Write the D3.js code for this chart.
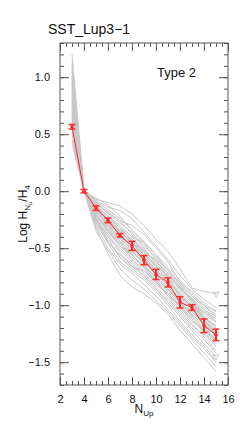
<!DOCTYPE html>
<html lang="en">
<head>
<meta charset="UTF-8">
<title>SST_Lup3-1 Type 2</title>
<script src="https://d3js.org/d3.v7.min.js"></script>
<style>
  body { margin: 0; background: #fff; }
  text { font-family: "Liberation Sans", Arial, sans-serif; fill: #111; }
</style>
</head>
<body>
<div id="chart"></div>
<script>
// Upper level number N_up for every point
const nUp = [3, 4, 5, 6, 7, 8, 9, 10, 11, 12, 13, 14, 15];

// Mean ratio (red) and its error
const meanLog = [0.565, 0.0, -0.148, -0.256, -0.387, -0.48, -0.605, -0.73, -0.80, -0.975, -1.02, -1.18, -1.26];
const meanErr = [0.02, 0.015, 0.02, 0.02, 0.015, 0.04, 0.04, 0.045, 0.04, 0.05, 0.025, 0.06, 0.05];

// Individual models (gray)
const models = [
  [0.95, 0, -0.07, -0.10, -0.13, -0.20, -0.30, -0.42, -0.53, -0.68, -0.85, -0.88, -0.90],
  [0.85, 0, -0.08, -0.14, -0.17, -0.24, -0.36, -0.48, -0.60, -0.74, -0.86, -0.95, -1.02],
  [1.15, 0, -0.10, -0.18, -0.26, -0.30, -0.38, -0.50, -0.62, -0.80, -0.88, -0.98, -1.05],
  [0.70, 0, -0.12, -0.22, -0.30, -0.40, -0.45, -0.56, -0.70, -0.80, -0.92, -1.00, -1.10],
  [1.05, 0, -0.13, -0.25, -0.34, -0.42, -0.52, -0.62, -0.72, -0.85, -0.95, -1.08, -1.15],
  [0.60, 0, -0.15, -0.26, -0.35, -0.46, -0.56, -0.66, -0.78, -0.88, -0.98, -1.10, -1.20],
  [0.90, 0, -0.16, -0.30, -0.40, -0.48, -0.58, -0.70, -0.76, -0.92, -1.02, -1.12, -1.22],
  [0.75, 0, -0.18, -0.28, -0.38, -0.50, -0.62, -0.72, -0.84, -0.96, -1.06, -1.16, -1.28],
  [1.00, 0, -0.20, -0.33, -0.44, -0.52, -0.64, -0.76, -0.86, -0.96, -1.10, -1.20, -1.30],
  [0.55, 0, -0.14, -0.24, -0.36, -0.45, -0.58, -0.68, -0.80, -0.92, -1.04, -1.14, -1.25],
  [0.80, 0, -0.22, -0.36, -0.48, -0.58, -0.66, -0.80, -0.90, -1.02, -1.12, -1.24, -1.34],
  [0.65, 0, -0.10, -0.20, -0.28, -0.36, -0.50, -0.64, -0.76, -0.86, -0.96, -1.06, -1.14],
  [1.10, 0, -0.25, -0.40, -0.50, -0.60, -0.70, -0.80, -0.92, -1.04, -1.16, -1.28, -1.40],
  [0.45, 0, -0.12, -0.26, -0.40, -0.52, -0.60, -0.72, -0.82, -0.94, -1.00, -1.12, -1.18],
  [0.88, 0, -0.28, -0.45, -0.56, -0.64, -0.74, -0.86, -0.98, -1.10, -1.22, -1.34, -1.45],
  [0.72, 0, -0.17, -0.32, -0.42, -0.55, -0.68, -0.78, -0.88, -1.00, -1.08, -1.18, -1.26],
  [0.98, 0, -0.30, -0.50, -0.64, -0.72, -0.82, -0.92, -1.04, -1.16, -1.28, -1.38, -1.50],
  [0.50, 0, -0.20, -0.36, -0.46, -0.56, -0.66, -0.76, -0.86, -0.98, -1.08, -1.18, -1.32],
  [0.82, 0, -0.32, -0.55, -0.74, -0.84, -0.90, -0.98, -1.08, -1.22, -1.34, -1.46, -1.58],
  [0.68, 0, -0.24, -0.38, -0.52, -0.62, -0.72, -0.84, -0.94, -1.06, -1.18, -1.26, -1.36],
  [1.20, 0, -0.18, -0.30, -0.36, -0.44, -0.54, -0.66, -0.74, -0.84, -0.94, -1.04, -1.10],
  [0.58, 0, -0.26, -0.46, -0.62, -0.70, -0.78, -0.88, -1.00, -1.14, -1.26, -1.36, -1.48],
  [0.92, 0, -0.14, -0.24, -0.32, -0.44, -0.56, -0.64, -0.74, -0.86, -0.94, -1.04, -1.12],
  [0.78, 0, -0.21, -0.34, -0.46, -0.54, -0.62, -0.74, -0.84, -0.94, -1.06, -1.16, -1.24],
  [0.62, 0, -0.09, -0.16, -0.24, -0.34, -0.44, -0.56, -0.66, -0.78, -0.90, -1.00, -1.06],
  [1.02, 0, -0.27, -0.42, -0.58, -0.68, -0.76, -0.86, -0.96, -1.08, -1.20, -1.30, -1.42],
  [0.84, 0, -0.19, -0.28, -0.34, -0.42, -0.54, -0.66, -0.78, -0.90, -1.00, -1.10, -1.18],
  [0.42, 0, -0.15, -0.30, -0.44, -0.60, -0.70, -0.80, -0.90, -1.02, -1.14, -1.22, -1.30],
  [0.95, 0, -0.23, -0.40, -0.54, -0.66, -0.74, -0.82, -0.90, -1.00, -1.12, -1.24, -1.36],
  [0.74, 0, -0.11, -0.19, -0.26, -0.38, -0.48, -0.58, -0.70, -0.82, -0.92, -1.02, -1.08],
  [0.86, 0, -0.16, -0.26, -0.38, -0.48, -0.60, -0.70, -0.80, -0.90, -1.02, -1.14, -1.22],
  [1.08, 0, -0.20, -0.34, -0.48, -0.56, -0.66, -0.76, -0.86, -0.98, -1.10, -1.22, -1.32],
  [0.66, 0, -0.13, -0.22, -0.32, -0.40, -0.52, -0.62, -0.72, -0.84, -0.96, -1.10, -1.20],
  [0.96, 0, -0.35, -0.52, -0.68, -0.78, -0.86, -0.96, -1.06, -1.18, -1.30, -1.42, -1.54],
  [0.76, 0, -0.06, -0.12, -0.22, -0.34, -0.46, -0.60, -0.76, -0.92, -1.00, -1.06, -1.12],
  [0.52, 0, -0.24, -0.44, -0.58, -0.66, -0.70, -0.78, -0.92, -1.00, -1.06, -1.14, -1.24],
  [1.12, 0, -0.11, -0.28, -0.42, -0.50, -0.54, -0.60, -0.68, -0.82, -0.98, -1.12, -1.28]
];
// models that end with a small triangle
const markedModels = [0, 9, 14];

const xTicks = [2, 4, 6, 8, 10, 12, 14, 16];
const yTicks = [-1.5, -1.0, -0.5, 0.0, 0.5, 1.0];

const W = 240, H = 428;
const m = { left: 60, right: 12, top: 43, bottom: 43 };

const svg = d3.select("#chart").append("svg")
  .attr("width", W).attr("height", H);

const x = d3.scaleLinear().domain([2, 16]).range([m.left, W - m.right]);
const y = d3.scaleLinear().domain([-1.7, 1.3]).range([H - m.bottom, m.top]);

const axisColor = "#555";
const xMinor = d3.range(2, 16.01, 0.5);
const yMinor = d3.range(-1.7, 1.301, 0.1).map(v => +v.toFixed(1));

// gray model lines
const line = d3.line().x((d, i) => x(nUp[i])).y(d => y(d));
const plot = svg.append("g");
plot.selectAll("path.model").data(models).join("path")
  .attr("class", "model")
  .attr("d", line)
  .attr("fill", "none")
  .attr("stroke", "#c8c8c8")
  .attr("stroke-width", 1);

plot.selectAll("path.tri").data(markedModels).join("path")
  .attr("class", "tri")
  .attr("d", d3.symbol(d3.symbolTriangle, 14))
  .attr("transform", i => `translate(${x(nUp[nUp.length - 1])},${y(models[i][nUp.length - 1])}) rotate(180)`)
  .attr("fill", "none")
  .attr("stroke", "#c8c8c8");

// red mean line with errors
const red = "#ff2a2a";
plot.append("path")
  .datum(meanLog)
  .attr("d", line)
  .attr("fill", "none")
  .attr("stroke", red)
  .attr("stroke-width", 1);

const err = plot.selectAll("g.err").data(meanLog).join("g").attr("class", "err");
err.append("line")
  .attr("x1", (d, i) => x(nUp[i])).attr("x2", (d, i) => x(nUp[i]))
  .attr("y1", (d, i) => y(d - meanErr[i])).attr("y2", (d, i) => y(d + meanErr[i]))
  .attr("stroke", red).attr("stroke-width", 2);
[-1, 1].forEach(s => {
  err.append("line")
    .attr("x1", (d, i) => x(nUp[i]) - 3.5).attr("x2", (d, i) => x(nUp[i]) + 3.5)
    .attr("y1", (d, i) => y(d + s * meanErr[i])).attr("y2", (d, i) => y(d + s * meanErr[i]))
    .attr("stroke", red).attr("stroke-width", 1.5);
});
err.append("circle")
  .attr("cx", (d, i) => x(nUp[i])).attr("cy", d => y(d))
  .attr("r", 1.8).attr("fill", red);

// axes: major + minor ticks on all four sides
function styleAxis(g) {
  g.select(".domain").remove();
  g.selectAll(".tick line").attr("stroke", axisColor);
  g.selectAll(".tick text").attr("fill", "#111")
    .style("font-family", "Liberation Sans, Arial, sans-serif").style("font-size", "11px");
}
const fmtY = d3.format(".1f");
svg.append("g").attr("transform", `translate(0,${H - m.bottom})`)
  .call(d3.axisTop(x).tickValues(xMinor).tickSize(4).tickFormat(""))
  .call(styleAxis);
svg.append("g").attr("transform", `translate(0,${H - m.bottom})`)
  .call(d3.axisTop(x).tickValues(xTicks).tickSize(8).tickFormat(""))
  .call(styleAxis);
svg.append("g").attr("transform", `translate(0,${H - m.bottom})`)
  .call(d3.axisBottom(x).tickValues(xTicks).tickSize(0).tickPadding(10).tickFormat(d3.format("d")))
  .call(styleAxis);
svg.append("g").attr("transform", `translate(0,${m.top})`)
  .call(d3.axisBottom(x).tickValues(xMinor).tickSize(4).tickFormat(""))
  .call(styleAxis);
svg.append("g").attr("transform", `translate(0,${m.top})`)
  .call(d3.axisBottom(x).tickValues(xTicks).tickSize(8).tickFormat(""))
  .call(styleAxis);

svg.append("g").attr("transform", `translate(${m.left},0)`)
  .call(d3.axisRight(y).tickValues(yMinor).tickSize(4).tickFormat(""))
  .call(styleAxis);
svg.append("g").attr("transform", `translate(${m.left},0)`)
  .call(d3.axisRight(y).tickValues(yTicks).tickSize(9).tickFormat(""))
  .call(styleAxis);
svg.append("g").attr("transform", `translate(${m.left},0)`)
  .call(d3.axisLeft(y).tickValues(yTicks).tickSize(0).tickPadding(10).tickFormat(fmtY))
  .call(styleAxis);
svg.append("g").attr("transform", `translate(${W - m.right},0)`)
  .call(d3.axisLeft(y).tickValues(yMinor).tickSize(4).tickFormat(""))
  .call(styleAxis);
svg.append("g").attr("transform", `translate(${W - m.right},0)`)
  .call(d3.axisLeft(y).tickValues(yTicks).tickSize(9).tickFormat(""))
  .call(styleAxis);

svg.append("rect")
  .attr("x", m.left).attr("y", m.top)
  .attr("width", W - m.left - m.right).attr("height", H - m.top - m.bottom)
  .attr("fill", "none").attr("stroke", axisColor).attr("stroke-width", 1);

// titles
svg.append("text").attr("x", 48).attr("y", 34)
  .style("font-size", "14px").text("SST_Lup3\u22121");
svg.append("text").attr("x", 157).attr("y", 77)
  .style("font-size", "13px").text("Type 2");

const xl = svg.append("text")
  .attr("x", x(9)).attr("y", 413).attr("text-anchor", "middle")
  .style("font-size", "12px");
xl.append("tspan").text("N");
xl.append("tspan").attr("dy", 3).style("font-size", "8px").text("Up");

const yl = svg.append("text")
  .attr("transform", `translate(27,${(m.top + H - m.bottom) / 2}) rotate(-90)`)
  .attr("text-anchor", "middle")
  .style("font-size", "12px");
yl.append("tspan").text("Log H");
yl.append("tspan").attr("dy", 3).style("font-size", "8px").text("N");
yl.append("tspan").attr("dy", 2).style("font-size", "6px").text("u");
yl.append("tspan").attr("dy", -5).style("font-size", "12px").text("/H");
yl.append("tspan").attr("dy", 3).style("font-size", "8px").text("4");
</script>
</body>
</html>
